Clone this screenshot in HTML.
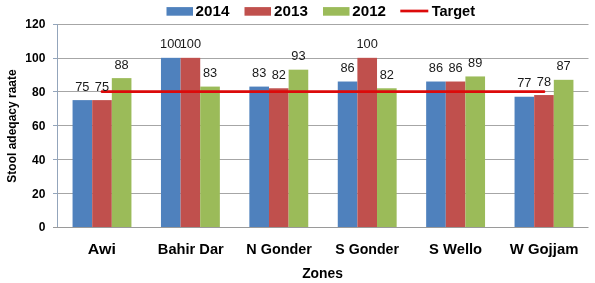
<!DOCTYPE html><html><head><meta charset="utf-8"><style>html,body{margin:0;padding:0;background:#fff;}svg{display:block;will-change:transform;filter:blur(0.3px);}text{font-family:"Liberation Sans",sans-serif;}</style></head><body>
<svg width="595" height="283" viewBox="0 0 595 283">
<rect width="595" height="283" fill="#fff"/>
<line x1="57.5" y1="193.5" x2="588.5" y2="193.5" stroke="#a6a6a6" stroke-width="1"/>
<line x1="57.5" y1="159.5" x2="588.5" y2="159.5" stroke="#a6a6a6" stroke-width="1"/>
<line x1="57.5" y1="125.5" x2="588.5" y2="125.5" stroke="#a6a6a6" stroke-width="1"/>
<line x1="57.5" y1="91.5" x2="588.5" y2="91.5" stroke="#a6a6a6" stroke-width="1"/>
<line x1="57.5" y1="58.5" x2="588.5" y2="58.5" stroke="#a6a6a6" stroke-width="1"/>
<line x1="57.5" y1="24.5" x2="588.5" y2="24.5" stroke="#a6a6a6" stroke-width="1"/>
<rect x="72.56" y="100.12" width="19.63" height="127.38" fill="#4F81BD"/>
<rect x="92.19" y="100.12" width="19.63" height="127.38" fill="#C0504D"/>
<rect x="111.81" y="78.13" width="19.63" height="149.37" fill="#9BBB59"/>
<rect x="160.96" y="57.83" width="19.63" height="169.67" fill="#4F81BD"/>
<rect x="180.59" y="57.83" width="19.63" height="169.67" fill="#C0504D"/>
<rect x="200.22" y="86.59" width="19.63" height="140.91" fill="#9BBB59"/>
<rect x="249.36" y="86.59" width="19.63" height="140.91" fill="#4F81BD"/>
<rect x="268.99" y="88.28" width="19.63" height="139.22" fill="#C0504D"/>
<rect x="288.62" y="69.68" width="19.63" height="157.82" fill="#9BBB59"/>
<rect x="337.76" y="81.52" width="19.63" height="145.98" fill="#4F81BD"/>
<rect x="357.39" y="57.83" width="19.63" height="169.67" fill="#C0504D"/>
<rect x="377.02" y="88.28" width="19.63" height="139.22" fill="#9BBB59"/>
<rect x="426.16" y="81.52" width="19.63" height="145.98" fill="#4F81BD"/>
<rect x="445.79" y="81.52" width="19.63" height="145.98" fill="#C0504D"/>
<rect x="465.42" y="76.44" width="19.63" height="151.06" fill="#9BBB59"/>
<rect x="514.55" y="96.74" width="19.63" height="130.76" fill="#4F81BD"/>
<rect x="534.18" y="95.05" width="19.63" height="132.45" fill="#C0504D"/>
<rect x="553.81" y="79.82" width="19.63" height="147.68" fill="#9BBB59"/>
<line x1="57.5" y1="24.0" x2="57.5" y2="227.0" stroke="#93a5bb" stroke-width="1"/>
<line x1="53.0" y1="227.5" x2="588.5" y2="227.5" stroke="#9a9a9a" stroke-width="1"/>
<line x1="53.0" y1="193.5" x2="57.5" y2="193.5" stroke="#93a5bb" stroke-width="1"/>
<line x1="53.0" y1="159.5" x2="57.5" y2="159.5" stroke="#93a5bb" stroke-width="1"/>
<line x1="53.0" y1="125.5" x2="57.5" y2="125.5" stroke="#93a5bb" stroke-width="1"/>
<line x1="53.0" y1="91.5" x2="57.5" y2="91.5" stroke="#93a5bb" stroke-width="1"/>
<line x1="53.0" y1="58.5" x2="57.5" y2="58.5" stroke="#93a5bb" stroke-width="1"/>
<line x1="53.0" y1="24.5" x2="57.5" y2="24.5" stroke="#93a5bb" stroke-width="1"/>
<line x1="102.00" y1="91.67" x2="544.00" y2="91.67" stroke="#dc0a0a" stroke-width="2.7" stroke-linecap="round"/>
<text x="82.37" y="90.72" font-size="12.2" fill="#1a1a1a" text-anchor="middle" textLength="14.24" lengthAdjust="spacingAndGlyphs">75</text>
<text x="102.00" y="90.72" font-size="12.2" fill="#1a1a1a" text-anchor="middle" textLength="14.24" lengthAdjust="spacingAndGlyphs">75</text>
<text x="121.63" y="68.73" font-size="12.2" fill="#1a1a1a" text-anchor="middle" textLength="14.24" lengthAdjust="spacingAndGlyphs">88</text>
<text x="170.77" y="48.43" font-size="12.2" fill="#1a1a1a" text-anchor="middle" textLength="21.37" lengthAdjust="spacingAndGlyphs">100</text>
<text x="190.40" y="48.43" font-size="12.2" fill="#1a1a1a" text-anchor="middle" textLength="21.37" lengthAdjust="spacingAndGlyphs">100</text>
<text x="210.03" y="77.19" font-size="12.2" fill="#1a1a1a" text-anchor="middle" textLength="14.24" lengthAdjust="spacingAndGlyphs">83</text>
<text x="259.17" y="77.19" font-size="12.2" fill="#1a1a1a" text-anchor="middle" textLength="14.24" lengthAdjust="spacingAndGlyphs">83</text>
<text x="278.80" y="78.88" font-size="12.2" fill="#1a1a1a" text-anchor="middle" textLength="14.24" lengthAdjust="spacingAndGlyphs">82</text>
<text x="298.43" y="60.28" font-size="12.2" fill="#1a1a1a" text-anchor="middle" textLength="14.24" lengthAdjust="spacingAndGlyphs">93</text>
<text x="347.57" y="72.12" font-size="12.2" fill="#1a1a1a" text-anchor="middle" textLength="14.24" lengthAdjust="spacingAndGlyphs">86</text>
<text x="367.20" y="48.43" font-size="12.2" fill="#1a1a1a" text-anchor="middle" textLength="21.37" lengthAdjust="spacingAndGlyphs">100</text>
<text x="386.83" y="78.88" font-size="12.2" fill="#1a1a1a" text-anchor="middle" textLength="14.24" lengthAdjust="spacingAndGlyphs">82</text>
<text x="435.97" y="72.12" font-size="12.2" fill="#1a1a1a" text-anchor="middle" textLength="14.24" lengthAdjust="spacingAndGlyphs">86</text>
<text x="455.60" y="72.12" font-size="12.2" fill="#1a1a1a" text-anchor="middle" textLength="14.24" lengthAdjust="spacingAndGlyphs">86</text>
<text x="475.23" y="67.04" font-size="12.2" fill="#1a1a1a" text-anchor="middle" textLength="14.24" lengthAdjust="spacingAndGlyphs">89</text>
<text x="524.37" y="87.34" font-size="12.2" fill="#1a1a1a" text-anchor="middle" textLength="14.24" lengthAdjust="spacingAndGlyphs">77</text>
<text x="544.00" y="85.65" font-size="12.2" fill="#1a1a1a" text-anchor="middle" textLength="14.24" lengthAdjust="spacingAndGlyphs">78</text>
<text x="563.63" y="70.42" font-size="12.2" fill="#1a1a1a" text-anchor="middle" textLength="14.24" lengthAdjust="spacingAndGlyphs">87</text>
<text x="45.4" y="231.40" font-size="12" font-weight="bold" fill="#000" text-anchor="end">0</text>
<text x="45.4" y="197.57" font-size="12" font-weight="bold" fill="#000" text-anchor="end">20</text>
<text x="45.4" y="163.73" font-size="12" font-weight="bold" fill="#000" text-anchor="end">40</text>
<text x="45.4" y="129.90" font-size="12" font-weight="bold" fill="#000" text-anchor="end">60</text>
<text x="45.4" y="96.07" font-size="12" font-weight="bold" fill="#000" text-anchor="end">80</text>
<text x="45.4" y="62.23" font-size="12" font-weight="bold" fill="#000" text-anchor="end">100</text>
<text x="45.4" y="28.40" font-size="12" font-weight="bold" fill="#000" text-anchor="end">120</text>
<text x="101.80" y="253.7" font-size="15" font-weight="bold" fill="#000" text-anchor="middle" textLength="28.17" lengthAdjust="spacingAndGlyphs">Awi</text>
<text x="190.80" y="253.7" font-size="15" font-weight="bold" fill="#000" text-anchor="middle" textLength="65.89" lengthAdjust="spacingAndGlyphs">Bahir Dar</text>
<text x="279.15" y="253.7" font-size="15" font-weight="bold" fill="#000" text-anchor="middle" textLength="65.59" lengthAdjust="spacingAndGlyphs">N Gonder</text>
<text x="367.15" y="253.7" font-size="15" font-weight="bold" fill="#000" text-anchor="middle" textLength="63.73" lengthAdjust="spacingAndGlyphs">S Gonder</text>
<text x="455.60" y="253.7" font-size="15" font-weight="bold" fill="#000" text-anchor="middle" textLength="53.08" lengthAdjust="spacingAndGlyphs">S Wello</text>
<text x="544.10" y="253.7" font-size="15" font-weight="bold" fill="#000" text-anchor="middle" textLength="68.56" lengthAdjust="spacingAndGlyphs">W Gojjam</text>
<text x="322.55" y="277.9" font-size="15" font-weight="bold" fill="#000" text-anchor="middle" textLength="40.80" lengthAdjust="spacingAndGlyphs">Zones</text>
<text transform="translate(16,126) rotate(-90)" x="0" y="0" font-size="12" font-weight="bold" fill="#000" text-anchor="middle">Stool adeqacy raate</text>
<rect x="166.5" y="7.1" width="26.5" height="8.6" fill="#4F81BD"/>
<text x="212.55" y="15.7" font-size="15" font-weight="bold" fill="#000" text-anchor="middle" textLength="33.90" lengthAdjust="spacingAndGlyphs">2014</text>
<rect x="244.5" y="7.1" width="26.5" height="8.6" fill="#C0504D"/>
<text x="291.05" y="15.7" font-size="15" font-weight="bold" fill="#000" text-anchor="middle" textLength="33.90" lengthAdjust="spacingAndGlyphs">2013</text>
<rect x="323.0" y="7.1" width="26.5" height="8.6" fill="#9BBB59"/>
<text x="369.15" y="15.7" font-size="15" font-weight="bold" fill="#000" text-anchor="middle" textLength="33.69" lengthAdjust="spacingAndGlyphs">2012</text>
<line x1="400.3" y1="11" x2="428.3" y2="11" stroke="#dc0a0a" stroke-width="2.7"/>
<text x="453.35" y="15.7" font-size="15" font-weight="bold" fill="#000" text-anchor="middle" textLength="43.41" lengthAdjust="spacingAndGlyphs">Target</text>
</svg></body></html>
